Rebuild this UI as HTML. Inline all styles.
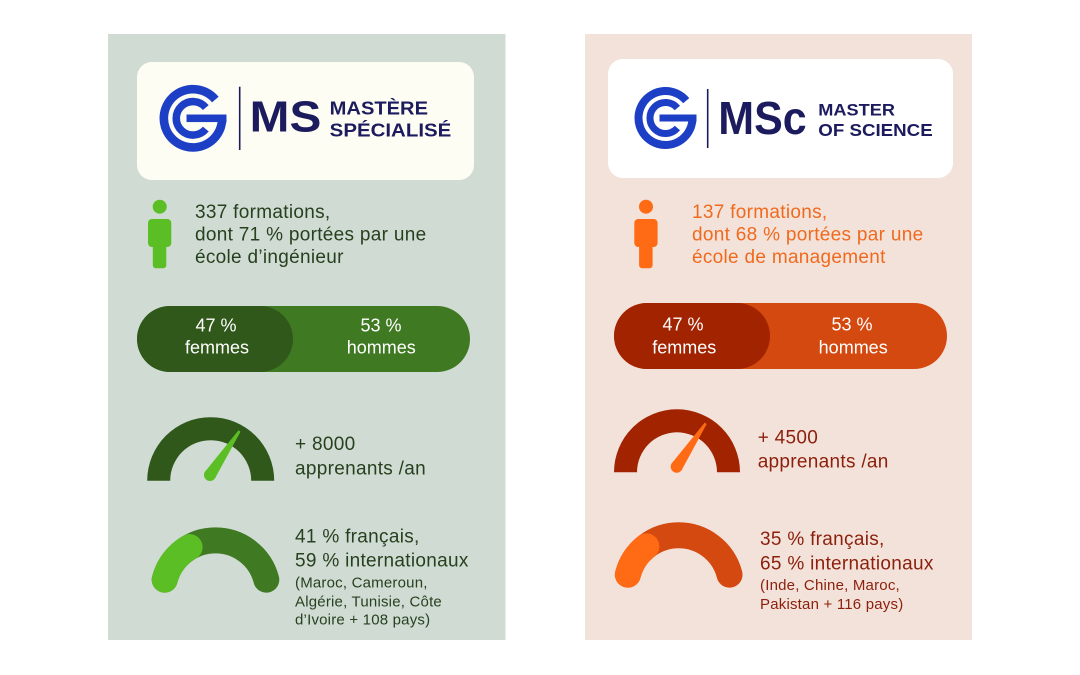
<!DOCTYPE html>
<html>
<head>
<meta charset="utf-8">
<style>
  html,body{margin:0;padding:0;background:#fff;}
  body{width:1080px;height:675px;overflow:hidden;}
  svg{display:block;}
  text{font-family:"Liberation Sans", sans-serif;}
  .m{letter-spacing:0.3px;}
  .s{letter-spacing:0.2px;}
</style>
</head>
<body>
<svg width="1080" height="675" viewBox="0 0 1080 675" xmlns="http://www.w3.org/2000/svg">
  <rect width="1080" height="675" fill="#ffffff"/>
  <!-- panels -->
  <rect x="108" y="34" width="397.5" height="606" fill="#d0dcd3"/>
  <rect x="585" y="34" width="387" height="606" fill="#f3e2da"/>

  <!-- logo boxes -->
  <rect x="137" y="62" width="337" height="118" rx="15" fill="#fefdf4"/>
  <rect x="608" y="59" width="345" height="119" rx="15" fill="#ffffff"/>

  <!-- G logo left -->
  <g transform="translate(193,118.3) scale(1.08)" fill="none" stroke="#1d3fc6">
    <path d="M 20.68 -17.36 A 27 27 0 1 0 27 0" stroke-width="8"/>
    <path d="M 11.87 -9.96 A 15.5 15.5 0 1 0 11.87 9.96" stroke-width="7"/>
    <rect x="-6" y="-3.5" width="37" height="7" fill="#1d3fc6" stroke="none"/>
  </g>
  <line x1="239.7" y1="86.7" x2="239.7" y2="150" stroke="#1c1b5e" stroke-width="1.6"/>
  <text x="249.7" y="131.7" font-size="44" font-weight="bold" fill="#1c1b5e" textLength="71.6" lengthAdjust="spacingAndGlyphs">MS</text>
  <text x="329.7" y="114.5" font-size="18.5" font-weight="bold" fill="#1c1b5e" textLength="98.3" lengthAdjust="spacingAndGlyphs">MASTÈRE</text>
  <text x="329.7" y="136.5" font-size="18.5" font-weight="bold" fill="#1c1b5e" textLength="121.6" lengthAdjust="spacingAndGlyphs">SPÉCIALISÉ</text>

  <!-- G logo right -->
  <g transform="translate(665.5,118)" fill="none" stroke="#1d3fc6">
    <path d="M 20.68 -17.36 A 27 27 0 1 0 27 0" stroke-width="8"/>
    <path d="M 11.87 -9.96 A 15.5 15.5 0 1 0 11.87 9.96" stroke-width="7"/>
    <rect x="-6" y="-3.5" width="37" height="7" fill="#1d3fc6" stroke="none"/>
  </g>
  <line x1="707.7" y1="89" x2="707.7" y2="148" stroke="#1c1b5e" stroke-width="1.6"/>
  <text x="718.3" y="134" font-size="46" font-weight="bold" fill="#1c1b5e" textLength="88.4" lengthAdjust="spacingAndGlyphs">MSc</text>
  <text x="818.3" y="115.5" font-size="17" font-weight="bold" fill="#1c1b5e" textLength="76.7" lengthAdjust="spacingAndGlyphs">MASTER</text>
  <text x="818.3" y="136" font-size="17.5" font-weight="bold" fill="#1c1b5e" textLength="114.4" lengthAdjust="spacingAndGlyphs">OF SCIENCE</text>

  <!-- person icons -->
  <g fill="#5bbe24">
    <circle cx="159.7" cy="206.7" r="7"/>
    <rect x="148" y="219" width="23.3" height="28" rx="4"/>
    <rect x="152.8" y="238" width="13.5" height="30.3" rx="3"/>
  </g>
  <g fill="#ff6b14">
    <circle cx="646" cy="206.7" r="7"/>
    <rect x="634.3" y="219" width="23.3" height="28" rx="4"/>
    <rect x="639.1" y="238" width="13.5" height="30.3" rx="3"/>
  </g>

  <!-- top texts -->
  <g font-size="19" fill="#27401f" class="m">
    <text x="195" y="218">337 formations,</text>
    <text x="195" y="240.5">dont 71 % portées par une</text>
    <text x="195" y="263">école d’ingénieur</text>
  </g>
  <g font-size="19" fill="#f06a1e" class="m">
    <text x="692" y="218">137 formations,</text>
    <text x="692" y="240.5">dont 68 % portées par une</text>
    <text x="692" y="263">école de management</text>
  </g>

  <!-- gender bars -->
  <rect x="137" y="306" width="333" height="66" rx="33" fill="#3f7a23"/>
  <rect x="137" y="306" width="156" height="66" rx="33" fill="#30581b"/>
  <g font-size="18" fill="#ffffff" text-anchor="middle">
    <text x="216" y="331.5">47 %</text>
    <text x="217" y="353.5">femmes</text>
    <text x="381" y="331.5">53 %</text>
    <text x="381.3" y="353.5">hommes</text>
  </g>
  <rect x="614" y="303" width="333" height="66" rx="33" fill="#d4490f"/>
  <rect x="614" y="303" width="156" height="66" rx="33" fill="#a12300"/>
  <g font-size="18" fill="#ffffff" text-anchor="middle">
    <text x="683" y="330.5">47 %</text>
    <text x="684.3" y="353.5">femmes</text>
    <text x="852" y="330.5">53 %</text>
    <text x="853.2" y="353.5">hommes</text>
  </g>

  <!-- gauge 1 left -->
  <path d="M 147.2 480.7 A 63.5 63.5 0 0 1 274.2 480.7 L 251.2 480.7 A 40.5 40.5 0 0 0 170.2 480.7 Z" fill="#30581b"/>
  <polygon points="205,471.7 238.5,430.3 240.5,431.7 215,478.3" fill="#5bbe24"/>
  <circle cx="210" cy="475" r="6" fill="#5bbe24"/>
  <!-- gauge 1 right -->
  <path d="M 614 472.3 A 63 63 0 0 1 740 472.3 L 717 472.3 A 40 40 0 0 0 637 472.3 Z" fill="#a12300"/>
  <polygon points="671.7,463.4 704.7,422.6 706.7,424 681.7,470" fill="#ff6b14"/>
  <circle cx="676.7" cy="466.7" r="6" fill="#ff6b14"/>

  <g font-size="19" fill="#27401f" class="m">
    <text x="295" y="450">+ 8000</text>
    <text x="295" y="474.5">apprenants /an</text>
  </g>
  <g font-size="19" fill="#8c1f0b" class="m">
    <text x="757.7" y="443.3">+ 4500</text>
    <text x="757.7" y="467.5">apprenants /an</text>
  </g>

  <!-- gauge 2 left -->
  <path d="M 164.7 579.65 A 52.5 52.5 0 0 1 266.3 579.65" fill="none" stroke="#3f7a23" stroke-width="26" stroke-linecap="round"/>
  <path d="M 164.7 579.65 A 52.5 52.5 0 0 1 189.64 547.11" fill="none" stroke="#5bbe24" stroke-width="26" stroke-linecap="round"/>
  <!-- gauge 2 right -->
  <path d="M 627.87 574.65 A 52.5 52.5 0 0 1 729.53 574.65" fill="none" stroke="#d4490f" stroke-width="26" stroke-linecap="round"/>
  <path d="M 627.87 574.65 A 52.5 52.5 0 0 1 646.38 546.43" fill="none" stroke="#ff6b14" stroke-width="26" stroke-linecap="round"/>

  <g fill="#27401f">
    <text x="295" y="542.3" font-size="19" class="m">41 % français,</text>
    <text x="295" y="566.7" font-size="19" class="m">59 % internationaux</text>
    <text x="295" y="587.7" font-size="15" class="s">(Maroc, Cameroun,</text>
    <text x="295" y="606.7" font-size="15" class="s">Algérie, Tunisie, Côte</text>
    <text x="295" y="624.5" font-size="15" class="s">d’Ivoire + 108 pays)</text>
  </g>
  <g fill="#8c1f0b">
    <text x="760" y="545" font-size="19" class="m">35 % français,</text>
    <text x="760" y="569.3" font-size="19" class="m">65 % internationaux</text>
    <text x="760" y="590" font-size="15" class="s">(Inde, Chine, Maroc,</text>
    <text x="760" y="609" font-size="15" class="s">Pakistan + 116 pays)</text>
  </g>
</svg>
</body>
</html>
